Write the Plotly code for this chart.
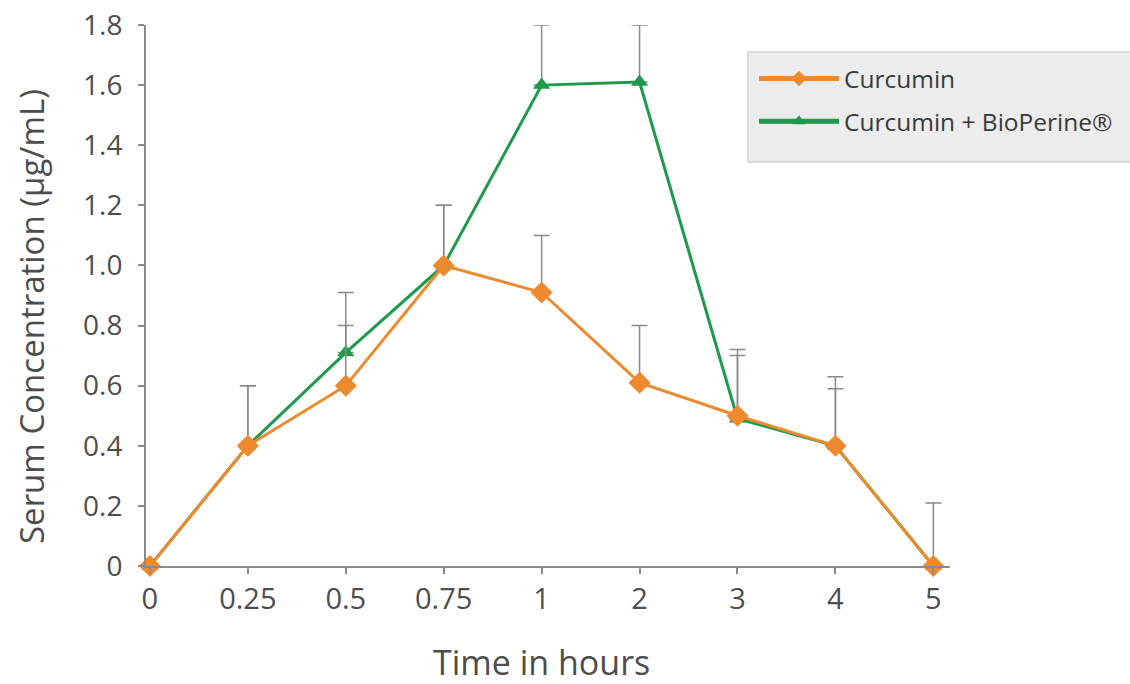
import plotly.graph_objects as go

time_labels = ["0", "0.25", "0.5", "0.75", "1", "2", "3", "4", "5"]
curcumin = [0, 0.40, 0.60, 1.00, 0.91, 0.61, 0.50, 0.40, 0.0]
curcumin_err = [0, 0.20, 0.20, 0.20, 0.19, 0.19, 0.20, 0.19, 0.21]
bioperine = [0, 0.40, 0.71, 1.00, 1.60, 1.61, 0.49, 0.40, 0.0]
bioperine_err = [0, 0.20, 0.20, 0.20, 0.20, 0.19, 0.23, 0.23, 0.0]
ytick_vals = [0, 0.2, 0.4, 0.6, 0.8, 1.0, 1.2, 1.4, 1.6, 1.8]
ytick_text = ["0", "0.2", "0.4", "0.6", "0.8", "1.0", "1.2", "1.4", "1.6", "1.8"]

ORANGE = "#EE8A2E"
GREEN = "#1F9A4B"
GRAY = "#8a8a8a"
TXT = "#4d4d4d"
FONT = "Open Sans"

fig = go.Figure()
fig.add_trace(go.Scatter(
    x=time_labels, y=bioperine, name="Curcumin + BioPerine\u00ae",
    mode="lines+markers", legendrank=2, legendgroup="b",
    line=dict(color=GREEN, width=3),
    marker=dict(symbol="triangle-up", size=15, color=GREEN),
    error_y=dict(type="data", symmetric=False, array=bioperine_err,
                 arrayminus=[0]*len(bioperine_err), color=GRAY, thickness=1.5, width=8),
    cliponaxis=False,
))
fig.add_trace(go.Scatter(
    x=time_labels, y=curcumin, name="Curcumin",
    mode="lines+markers", legendrank=1, legendgroup="a",
    line=dict(color=ORANGE, width=3),
    marker=dict(symbol="diamond", size=17, color=ORANGE),
    error_y=dict(type="data", symmetric=False, array=curcumin_err,
                 arrayminus=[0]*len(curcumin_err), color=GRAY, thickness=1.5, width=8),
    cliponaxis=False,
))

W, H = 1130, 684
L, R, T, B = 146, 180, 25, 118
pw = W - L - R
ph = H - T - B

def px_x(p):
    return (p - L) / pw

def px_y(p):
    return (H - B - p) / ph

fig.add_shape(type="rect", xref="paper", yref="paper",
              x0=px_x(748), x1=px_x(1145), y0=px_y(162), y1=px_y(52),
              fillcolor="#ececec", line=dict(color="#d2d2d2", width=1.5), layer="below")

# axis titles
fig.add_annotation(text="Serum Concentration (\u00b5g/mL)", textangle=-90,
                   xref="paper", yref="paper", x=px_x(31), y=px_y(317),
                   xanchor="center", yanchor="middle", showarrow=False,
                   font=dict(size=33, color=TXT, family=FONT))
fig.add_annotation(text="Time in hours",
                   xref="paper", yref="paper", x=px_x(541), y=px_y(662),
                   xanchor="center", yanchor="middle", showarrow=False,
                   font=dict(size=34, color=TXT, family=FONT))

fig.update_layout(
    width=W, height=H,
    margin=dict(l=L, r=R, t=T, b=B, autoexpand=False),
    plot_bgcolor="white", paper_bgcolor="white",
    font=dict(family=FONT, color=TXT),
    showlegend=True,
    legend=dict(x=px_x(754), y=px_y(56), xanchor="left", yanchor="top",
                bgcolor="rgba(0,0,0,0)", font=dict(size=24.5, color="#3a3a3a", family=FONT),
                itemwidth=80, tracegroupgap=8, itemsizing="constant"),
    xaxis=dict(
        type="category", range=[-0.04, 8.17], automargin=False,
        showline=True, linecolor=GRAY, linewidth=2,
        ticks="outside", ticklen=6, tickcolor=GRAY, tickwidth=1.5,
        showgrid=False, zeroline=False,
        tickfont=dict(size=29, color=TXT),
    ),
    yaxis=dict(
        range=[0, 1.8], tickvals=ytick_vals, ticktext=ytick_text, automargin=False,
        showline=True, linecolor=GRAY, linewidth=2,
        ticks="outside", ticklen=6, tickcolor=GRAY, tickwidth=1.5,
        ticklabelstandoff=10, ticklabeloverflow="allow",
        showgrid=False, zeroline=False,
        tickfont=dict(size=28, color=TXT),
    ),
)

fig.write_html("out.html", config={"displayModeBar": False},
               post_script="document.body.style.margin='0';document.body.style.overflow='hidden';")
